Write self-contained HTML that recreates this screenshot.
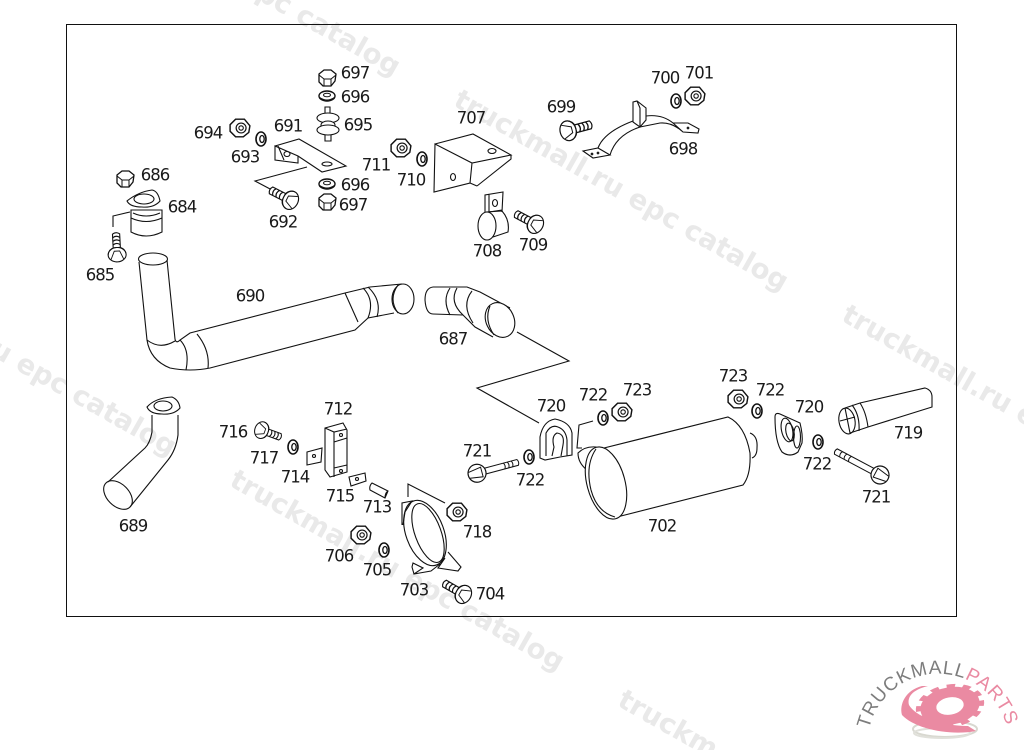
<!DOCTYPE html>
<html><head><meta charset="utf-8">
<style>
html,body{margin:0;padding:0;background:#fff;width:1024px;height:750px;overflow:hidden}
svg{display:block;overflow:hidden}
.w{font:bold 27.5px "DejaVu Sans",sans-serif;fill:#e9e9e9}
.l text{font:16.5px "DejaVu Sans",sans-serif;letter-spacing:-1px;fill:#1a1a1a;text-anchor:middle}
.p *{fill:none;stroke:#111;stroke-width:1.1}
.p .f{fill:#fff}
</style></head><body>
<svg width="1024" height="750" viewBox="0 0 1024 750" xmlns="http://www.w3.org/2000/svg">
<defs>
<g id="nut"><g transform="scale(1.1)"><path d="M-4,-8 L4,-8 L9,-2 L8,4 L3,8 L-4,8 L-9,3 L-9,-3Z" fill="#fff" stroke="#111" stroke-width="1.3"/><circle cx="1" cy="0" r="4.5" fill="none" stroke="#111" stroke-width="1.1"/><circle cx="1" cy="0" r="2" fill="none" stroke="#111"/></g></g>
<g id="washer"><ellipse rx="5" ry="7" fill="#fff" stroke="#111" stroke-width="1.6"/><ellipse cx="1" rx="2.2" ry="3.5" fill="none" stroke="#111" stroke-width="1.3"/></g>
<g id="hwasher"><ellipse rx="8" ry="5" fill="#fff" stroke="#111" stroke-width="1.4"/><ellipse cy="-1" rx="3.5" ry="1.8" fill="none" stroke="#111"/><path d="M-8,1 Q0,7 8,1" fill="none" stroke="#111"/></g>
<g id="hnut"><path d="M-8,-4 L-3,-8 L4,-8 L9,-4 L8,3 L4,8 L-4,8 L-8,4Z" fill="#fff" stroke="#111" stroke-width="1.3"/><path d="M-8,-3 L-3,1 L4,1 L9,-3 M-3,1 L-3,8 M4,1 L4,8" fill="none" stroke="#111"/></g>
<g id="bolt" fill="none" stroke="#111"><path d="M0,-4 L20,-4 Q23,0 20,4 L0,4" fill="#fff" stroke-width="1.2"/><path d="M8,-4 Q11,0 8,4 M12,-4 Q15,0 12,4 M16,-4 Q19,0 16,4" stroke-width="1.3"/><ellipse cx="-3" rx="8" ry="10" fill="#fff" stroke-width="1.2"/><path d="M-3,-10 Q4,-9 5,-3 L5,3 Q4,9 -3,10 M-8,-7 L1,-3 L1,3 L-8,7"/></g>
</defs>
<rect width="1024" height="750" fill="#fff"/>
<g class="w">
<text transform="translate(64,-110) rotate(29.5)">truckmall.ru epc catalog</text>
<text transform="translate(452,105) rotate(29.5)">truckmall.ru epc catalog</text>
<text transform="translate(840,320) rotate(29.5)">truckmall.ru epc</text>
<text transform="translate(-160,270) rotate(29.5)">truckmall.ru epc catalog</text>
<text transform="translate(228,485) rotate(29.5)">truckmall.ru epc catalog</text>
<text transform="translate(616,705) rotate(29.5)">truckm</text>
</g>
<rect x="66.5" y="24.5" width="890" height="592" fill="none" stroke="#111"/>

<g class="p">
<!-- leaders -->
<path d="M307,167 L255,181 L272,190 M130,212 L113,216 L113,227 M517,332 L569,361 L477,388 L539,423 M593,421 L579,425 L577,448 L582,448 M408,497 L408,484 L445,503"/>
<!-- 691 -->
<path d="M275,146 L299,139 L346,166 L322,172 L298,156 L275,146 L275,160 L298,163 L298,156 M278,146 L284,160"/>
<ellipse cx="287" cy="154" rx="3" ry="2.5"/><ellipse cx="327" cy="164" rx="5" ry="2"/>
<!-- 695 -->
<path d="M325,107 H330 V116 H325Z M325,132 H331 V141 H325Z"/>
<ellipse class="f" cx="328" cy="118" rx="11" ry="5"/><ellipse class="f" cx="328" cy="125" rx="7" ry="4"/><ellipse class="f" cx="328" cy="130" rx="11" ry="5"/>
<!-- 684 -->
<path class="f" d="M131,210 L131,232 Q146,240 162,232 L162,210 Z"/>
<path d="M131,218 Q146,225 162,218 M133,213 Q146,219 160,213"/>
<path class="f" d="M127,201 Q138,192 152,190 Q158,191 160,201 Q154,208 142,207 Q130,207 127,201Z"/>
<ellipse cx="144" cy="199" rx="10" ry="5"/>
<!-- 690 -->
<path d="M139,262 L147,340 Q150,360 170,368 Q190,372 210,368 L355,330 L368,318 L394,313"/>
<path d="M167,260 L175,339 Q176,344 180,340 L190,333 L345,293 L370,287 L402,284"/>
<ellipse cx="153" cy="259" rx="14.500" ry="6" />
<path d="M147,340 Q160,350 175,341 M180,340 Q190,350 186,370 M197,334 Q210,350 208,368 M345,293 L358,322 M363,288 Q375,300 368,318 M368,287 Q382,300 377,317"/>
<ellipse cx="403" cy="299" rx="11" ry="15"/><path d="M398,285 Q388,299 398,313"/>
<!-- 687 -->
<path d="M433,287 Q425,288 425,300 Q426,314 433,314 L463,315 L475,327 L493,337 M433,287 L467,287 L480,292 L510,308"/>
<path d="M450,288 Q442,300 450,315 M457,288 Q449,302 463,315 M472,291 Q461,305 473,323"/>
<ellipse cx="500" cy="320" rx="14" ry="18" transform="rotate(-25 500 320)" class="f"/><path d="M490,306 Q484,320 494,335"/>
<!-- 707 -->
<path d="M435,144 L473,134 L511,155 L472,163 L435,144 L434,192 L470,183 L472,163 M477,186 L511,159 L511,155 M470,183 L477,186"/>
<ellipse cx="453" cy="177" rx="2.500" ry="3.500"/><ellipse cx="492" cy="151" rx="4" ry="2.5"/>
<!-- 708 -->
<path d="M485,212 L485,195 L503,192 L502,212 M489,194 L489,212 L502,210"/><ellipse cx="495" cy="203" rx="2.500" ry="3.500"/>
<ellipse cx="487" cy="226" rx="9" ry="14" /><path d="M486,212 L502,211 Q510,220 508,232 L493,237"/>
<!-- 698 -->
<path d="M583,151 L598,148 L610,155 L593,158Z M598,148 Q604,132 633,121 M610,155 Q616,135 640,127 L660,123 Q672,122 683,132 M646,116 Q662,114 673,123 L688,123 L699,129 L698,133 L683,132 L673,123"/>
<path class="f" d="M633,102 L637,101 L646,108 L646,120 L640,127 L633,122Z"/><path d="M637,101 L640,108 V127"/>
<circle cx="592" cy="154" r=".8"/><circle cx="598" cy="153" r=".8"/><circle cx="688" cy="128" r=".8"/>
<!-- 689 -->
<path d="M152,415 L152,432 Q150,443 145,448 L108,482 M178,415 L178,435 Q176,450 168,460 L130,507"/>
<ellipse cx="118" cy="495" rx="17" ry="11" transform="rotate(45 118 495)"/>
<path class="f" d="M147,407 Q155,398 172,397 Q179,400 180,408 Q174,415 162,414 Q150,414 147,407Z"/><ellipse cx="163" cy="406" rx="9" ry="5"/>
<!-- 712 -->
<path d="M325,428 L343,423 L347,430 L347,472 L330,477 L325,470Z M325,428 L334,432 L347,429 M334,432 L334,477 M334,442 L347,438 M334,468 L347,465"/>
<circle cx="341" cy="435" r="1.5"/><circle cx="341" cy="471" r="1.5"/>
<!-- 714/715 -->
<path d="M307,452 L322,448 L321,462 L307,465Z M349,477 L365,473 L366,481 L351,486Z"/><circle cx="314" cy="456" r="1.500"/><circle cx="357" cy="479" r="1.500"/>
<!-- 713 -->
<path d="M372,483 L388,491 L385,498 L370,490 Q369,486 372,483Z M388,491 Q385,493 385,498"/>
<!-- 703 -->
<ellipse cx="425" cy="533" rx="19" ry="34" transform="rotate(-20 425 533)"/>
<ellipse cx="428" cy="533" rx="13" ry="31" transform="rotate(-20 428 533)"/>
<path d="M402,525 L402,503 L412,501 L405,512 L403,525 M413,563 L423,568 L414,574 L412,567Z M414,574 L431,571 L440,564 M448,552 L461,567 L458,571 L438,568 L445,558"/>
<!-- 702 -->
<path d="M600,449 L728,417 Q745,425 750,453 Q751,475 743,485 L617,517"/>
<path class="f" d="M578,453 Q585,446 596,447 L595,470 L587,470 Q578,463 578,453Z"/>
<path d="M750,433 Q758,436 757,448 Q757,456 752,458"/>
<ellipse class="f" cx="606" cy="483" rx="19" ry="37" transform="rotate(-15 606 483)"/>
<path d="M596,449 Q585,465 591,490 Q597,512 615,517"/>
<!-- 719 -->
<path d="M845,408 L860,403 L925,388 Q932,390 932,397 L932,407 L868,427 L850,433 M860,403 Q866,412 868,427 M852,405 Q860,415 859,431"/>
<ellipse cx="847" cy="421" rx="8" ry="13" transform="rotate(-10 847 421)"/><path d="M840,421 L855,417 M845,408 L850,433"/>
<!-- 720 left -->
<path d="M540,458 L540,437 Q543,421 555,419 Q570,422 572,433 L572,455 L560,457 L545,460Z M546,456 V433 Q551,424 558,427 Q566,430 567,440 M567,440 L567,456 M552,456 L554,447 Q551,436 557,433 Q565,434 563,445 L561,456"/>
<!-- 720 right -->
<path d="M775,417 Q775,412 780,414 L800,423 Q803,435 802,443 L798,452 Q790,458 782,452 Q775,442 775,417Z"/>
<ellipse cx="787" cy="430" rx="5.500" ry="12" transform="rotate(-12 787 430)"/><ellipse cx="790" cy="432" rx="4" ry="9" transform="rotate(-12 790 432)"/><ellipse cx="797" cy="437" rx="3.500" ry="11"/>
</g>
<!-- nuts and washers -->
<use href="#hnut" x="327" y="78"/>
<use href="#hwasher" x="327" y="96"/>
<use href="#hwasher" x="327" y="184"/>
<use href="#hnut" x="327" y="202"/>
<use href="#nut" x="240" y="128"/>
<use href="#washer" x="261" y="139"/>
<use href="#hnut" x="125" y="179"/>
<use href="#nut" x="401" y="148"/>
<use href="#washer" x="422" y="159"/>
<use href="#washer" x="676" y="101"/>
<use href="#nut" x="695" y="96"/>
<use href="#washer" x="603" y="418"/>
<use href="#nut" x="622" y="412"/>
<use href="#washer" x="529" y="457"/>
<use href="#nut" x="457" y="512"/>
<use href="#nut" x="738" y="399"/>
<use href="#washer" x="757" y="411"/>
<use href="#washer" x="818" y="442"/>
<use href="#washer" x="293" y="447"/>
<use href="#nut" x="361" y="535"/>
<use href="#washer" x="384" y="550"/>
<!-- bolts -->
<use href="#bolt" transform="translate(288,199) rotate(207) scale(.95)"/>
<use href="#bolt" transform="translate(117,252) rotate(-93) scale(.9)"/>
<use href="#bolt" transform="translate(533,223) rotate(208) scale(.95)"/>
<use href="#bolt" transform="translate(571,130) rotate(-15) scale(1)"/>
<use href="#bolt" transform="translate(461,593) rotate(210) scale(.95)"/>
<use href="#bolt" transform="translate(264,431) rotate(20) scale(.85)"/>
<g transform="translate(880,475) rotate(208)"><path d="M0,-3 L50,-3 Q52,0 50,3 L0,3" fill="#fff" stroke="#111"/><path d="M34,-3 Q36,0 34,3 M39,-3 Q41,0 39,3 M44,-3 Q46,0 44,3" fill="none" stroke="#111"/><ellipse rx="9" ry="9" fill="#fff" stroke="#111" stroke-width="1.2"/><path d="M-8,-3 L5,-5 L5,5 L-8,3" fill="none" stroke="#111"/></g>
<g transform="translate(478,473) rotate(-15)"><path d="M0,-3 L41,-3 Q43,0 41,3 L0,3" fill="#fff" stroke="#111"/><path d="M27,-3 Q29,0 27,3 M31,-3 Q33,0 31,3 M35,-3 Q37,0 35,3" fill="none" stroke="#111"/><ellipse cx="-1" rx="9" ry="9" fill="#fff" stroke="#111" stroke-width="1.2"/><path d="M-9,-3 L4,-5 L4,5 L-9,3" fill="none" stroke="#111"/></g>

<g class="l" transform="translate(0,.7)">
<text x="355" y="78">697</text><text x="355" y="102">696</text><text x="358" y="130">695</text>
<text x="208" y="138">694</text><text x="245" y="162">693</text><text x="288" y="131">691</text>
<text x="155" y="180">686</text><text x="182" y="212">684</text><text x="100" y="280">685</text>
<text x="283" y="227">692</text><text x="355" y="190">696</text><text x="353" y="210">697</text>
<text x="376" y="170">711</text><text x="411" y="185">710</text><text x="471" y="123">707</text>
<text x="561" y="112">699</text><text x="665" y="83">700</text><text x="699" y="78">701</text>
<text x="683" y="154">698</text><text x="487" y="256">708</text><text x="533" y="250">709</text>
<text x="250" y="301">690</text><text x="453" y="344">687</text><text x="551" y="411">720</text>
<text x="593" y="400">722</text><text x="637" y="395">723</text><text x="477" y="456">721</text>
<text x="530" y="485">722</text><text x="733" y="381">723</text><text x="770" y="395">722</text>
<text x="809" y="412">720</text><text x="817" y="469">722</text><text x="908" y="438">719</text>
<text x="876" y="502">721</text><text x="662" y="531">702</text><text x="133" y="531">689</text>
<text x="338" y="414">712</text><text x="233" y="437">716</text><text x="264" y="463">717</text>
<text x="295" y="482">714</text><text x="340" y="501">715</text><text x="377" y="512">713</text>
<text x="477" y="537">718</text><text x="339" y="561">706</text><text x="377" y="575">705</text>
<text x="414" y="595">703</text><text x="490" y="599">704</text>
</g>

<!-- logo -->
<g>
<ellipse cx="945" cy="729" rx="32" ry="8" fill="none" stroke="#d8d8d0" stroke-width="2"/>
<ellipse cx="942" cy="733" rx="28" ry="5" fill="none" stroke="#e0e0da" stroke-width="2"/>
<path d="M922,686 C906,690 899,704 902,715 C915,729 950,736 976,731 L968,726 C940,726 915,716 909,705 C907,697 912,690 928,686Z" fill="#ea8aa2"/>
<g transform="translate(950,706) rotate(-10) scale(1.15,.72)">
<circle r="19" fill="none" stroke="#ea8aa2" stroke-width="14"/>
<circle r="26" fill="none" stroke="#ea8aa2" stroke-width="8" stroke-dasharray="7 6.600"/>
</g>
<path id="arc" d="M869,729 A71,71 0 0 1 1009,739" fill="none"/>
<text font-family="Liberation Sans, sans-serif" font-size="19" fill="#7d7d7d" letter-spacing="0.800"><textPath href="#arc">TRUCKMALL<tspan fill="#ea8aa2">PARTS</tspan></textPath></text>
</g>
</svg>
</body></html>
